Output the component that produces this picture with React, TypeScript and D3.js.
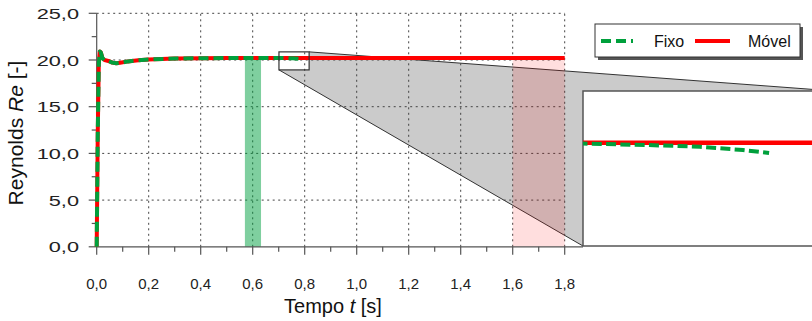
import React from "react";
import * as d3 from "d3";

const time = [0, 0.004, 0.008, 0.012, 0.016, 0.022, 0.03, 0.045, 0.06, 0.075, 0.09, 0.12, 0.16, 0.2, 0.3, 0.4, 0.5, 0.6, 0.7, 0.73, 0.755, 0.775, 0.787, 1.0, 1.4, 1.8];
const movel = [0, 12, 19.5, 20.9, 20.8, 20.2, 20.0, 19.9, 19.72, 19.65, 19.7, 19.85, 19.97, 20.05, 20.15, 20.19, 20.21, 20.22, 20.225, 20.225, 20.226, 20.226, 20.226, 20.226, 20.226, 20.226];
const fixo: (number | null)[] = [0, 12, 19.5, 20.9, 20.8, 20.2, 20.0, 19.9, 19.72, 19.65, 19.7, 19.85, 19.97, 20.05, 20.15, 20.19, 20.21, 20.215, 20.216, 20.198, 20.176, 20.135, 20.098, null, null, null];

const xTicks = [0, 0.2, 0.4, 0.6, 0.8, 1.0, 1.2, 1.4, 1.6, 1.8];
const yTicks = [0, 5, 10, 15, 20, 25];
const greenBand = [0.57, 0.632, 20.3];
const pinkBand = [1.6, 1.8, 20.3];
const zoomT = [0.701, 0.817];
const zoomRe = [18.94, 20.87];
const seriesNames = ["Fixo", "Móvel"];

const W = 812, H = 321;
const x = d3.scaleLinear().domain([0, 1.8]).range([96.7, 564.7]);
const y = d3.scaleLinear().domain([0, 25]).range([246.8, 13.3]);
const ix = d3.scaleLinear().domain(zoomT).range([583, 834]);
const iy = d3.scaleLinear().domain(zoomRe).range([246, 91]);

const fmt = (v: number) => v.toFixed(1).replace(".", ",");

export default function App() {
  const pts = time.map((t, i) => ({ t, m: movel[i], f: fixo[i] }));
  const lineM = d3.line<any>().x(d => x(d.t)).y(d => y(d.m));
  const lineF = d3.line<any>().defined(d => d.f != null).x(d => x(d.t)).y(d => y(d.f));
  const ilineM = d3.line<any>().x(d => ix(d.t)).y(d => iy(d.m));
  const ilineF = d3.line<any>().defined(d => d.f != null).x(d => ix(d.t)).y(d => iy(d.f));

  const rx0 = x(zoomT[0]), rx1 = x(zoomT[1]);
  const ry0 = y(zoomRe[1]), ry1 = y(zoomRe[0]);
  const bx0 = ix.range()[0], bx1 = ix.range()[1];
  const by0 = iy.range()[1], by1 = iy.range()[0];

  const minorX = d3.range(0.1, 1.8, 0.2);
  const minorY = d3.range(2.5, 25, 5);
  const dashF = "10,5";
  const grid = "#444";

  return (
    <svg width={W} height={H} style={{ position: "absolute", left: 0, top: 0 }} fontFamily="'Liberation Sans', Arial, sans-serif">
      <defs>
        <clipPath id="insetClip">
          <rect x={bx0} y={by0} width={bx1 - bx0} height={by1 - by0} />
        </clipPath>
      </defs>
      <rect width={W} height={H} fill="#fff" />
      <polygon
        points={`${rx1},${ry0} ${bx1},${by0} ${bx1},${by1} ${bx0},${by1} ${rx0},${ry1} ${rx1},${ry1}`}
        fill="#cbcbcb"
      />
      <line x1={rx1} y1={ry0} x2={bx1} y2={by0} stroke="#333" strokeWidth={1} />
      <line x1={rx0} y1={ry1} x2={bx0} y2={by1} stroke="#333" strokeWidth={1} />
      {yTicks.filter(v => v > 0).map(v => (
        <line key={"gy" + v} x1={x(0)} x2={x(1.8)} y1={y(v)} y2={y(v)} stroke={grid} strokeWidth={1} strokeDasharray="2,3.5" />
      ))}
      {xTicks.filter(v => v > 0).map(v => (
        <line key={"gx" + v} x1={x(v)} x2={x(v)} y1={y(0)} y2={y(25)} stroke={grid} strokeWidth={1} strokeDasharray="2,3.5" />
      ))}
      <rect x={x(greenBand[0])} width={x(greenBand[1]) - x(greenBand[0])} y={y(greenBand[2])} height={y(0) - y(greenBand[2])} fill="#00a040" opacity={0.5} />
      <rect x={x(pinkBand[0])} width={x(pinkBand[1]) - x(pinkBand[0])} y={y(pinkBand[2])} height={y(0) - y(pinkBand[2])} fill="#ff0000" opacity={0.13} />
      <line x1={x(0)} x2={bx0} y1={y(0)} y2={y(0)} stroke="#555" strokeWidth={1.2} />
      <line x1={x(0)} x2={x(0)} y1={y(0)} y2={y(25)} stroke="#555" strokeWidth={1.2} />
      {xTicks.map(v => (
        <line key={"tx" + v} x1={x(v)} x2={x(v)} y1={y(0)} y2={y(0) + 8} stroke="#555" strokeWidth={1.2} />
      ))}
      {minorX.map(v => (
        <line key={"mx" + v} x1={x(v)} x2={x(v)} y1={y(0)} y2={y(0) + 5} stroke="#555" strokeWidth={1.2} />
      ))}
      {yTicks.map(v => (
        <line key={"ty" + v} x1={x(0) - 8} x2={x(0)} y1={y(v)} y2={y(v)} stroke="#555" strokeWidth={1.2} />
      ))}
      {minorY.map(v => (
        <line key={"my" + v} x1={x(0) - 5} x2={x(0)} y1={y(v)} y2={y(v)} stroke="#555" strokeWidth={1.2} />
      ))}
      {xTicks.map(v => (
        <text key={"lx" + v} x={x(v)} y={289} textAnchor="middle" fontSize={15} fill="#222">{fmt(v)}</text>
      ))}
      {yTicks.map(v => (
        <text key={"ly" + v} transform={`translate(79,${y(v) + 5.5}) scale(1.45,1)`} textAnchor="end" fontSize={15} fill="#222">{fmt(v)}</text>
      ))}
      <text x={333} y={313} textAnchor="middle" fontSize={20} fill="#111">Tempo <tspan fontStyle="italic">t</tspan> [s]</text>
      <text transform="translate(23,133) rotate(-90)" textAnchor="middle" fontSize={21} fill="#111">Reynolds <tspan fontStyle="italic">Re</tspan> [-]</text>
      <path d={lineM(pts) || ""} fill="none" stroke="#ff0000" strokeWidth={4} strokeLinejoin="round" />
      <path d={lineF(pts) || ""} fill="none" stroke="#00a03c" strokeWidth={4} strokeDasharray={dashF} strokeLinejoin="round" />
      <rect x={rx0} y={ry0} width={rx1 - rx0} height={ry1 - ry0} fill="none" stroke="#333" strokeWidth={1.2} />
      <rect x={bx0} y={by0} width={bx1 - bx0} height={by1 - by0} fill="#fff" stroke="#555" strokeWidth={1.5} />
      <g clipPath="url(#insetClip)">
        <path d={ilineM(pts) || ""} fill="none" stroke="#ff0000" strokeWidth={4.5} />
        <path d={ilineF(pts) || ""} fill="none" stroke="#00a03c" strokeWidth={4} strokeDasharray="10,4.3" />
      </g>
      <rect x={598} y={27} width={205} height={33} fill="#555" />
      <rect x={595} y={24} width={205} height={33} fill="#fff" stroke="#333" strokeWidth={1} />
      <line x1={601} x2={633} y1={41} y2={41} stroke="#00a03c" strokeWidth={4} strokeDasharray={dashF} />
      <text x={654} y={46.5} fontSize={16} fill="#111">{seriesNames[0]}</text>
      <line x1={695} x2={730} y1={41} y2={41} stroke="#ff0000" strokeWidth={4} />
      <text x={748} y={46.5} fontSize={16} fill="#111">{seriesNames[1]}</text>
    </svg>
  );
}
